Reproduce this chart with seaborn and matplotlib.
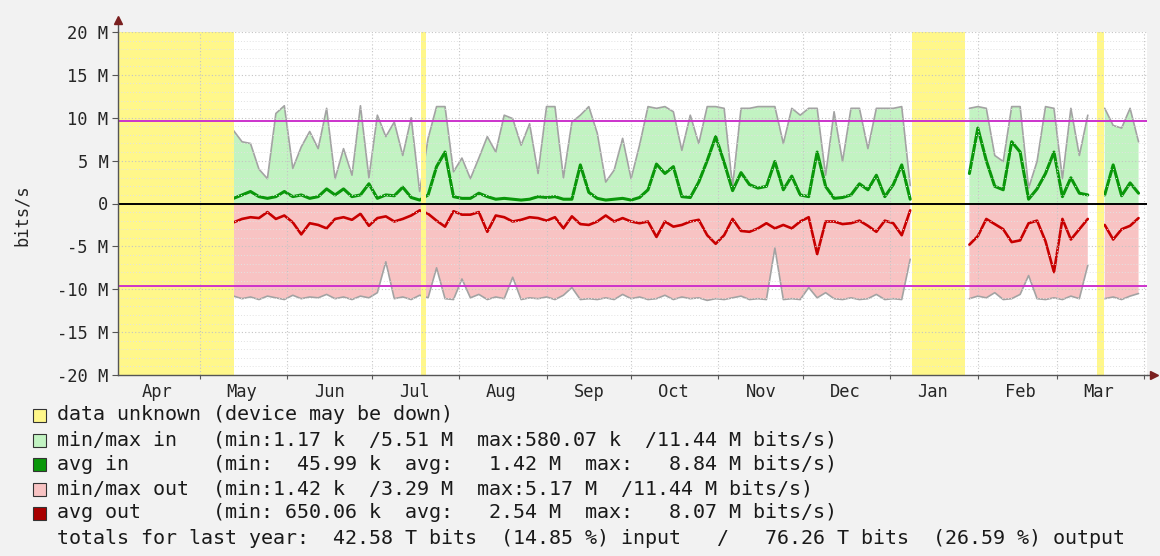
"""
Yearly traffic graph (RRD style): in/out bits per second, min/max band + daily average
"""
import numpy as np
import pandas as pd
import matplotlib
matplotlib.use("Agg")
import matplotlib.pyplot as plt
import matplotlib.dates as mdates
import matplotlib.ticker as mticker
from matplotlib.patches import Rectangle
import seaborn as sns

nan = np.nan

# ============ data (M bits/s, one sample every 3 days) ============
dates = pd.date_range("2012-05-13", periods=108, freq="3D")

max_in = [8.5, 7.2, 7.0, 4.0, 2.9, 10.5, 11.4, 4.1, 6.6, 8.4,
          6.4, 11.1, 2.9, 6.4, 3.3, 11.4, 3.0, 10.3, 7.8, 9.5,
          5.6, 10.0, 1.4, 7.6, 11.3, 11.3, 3.7, 5.3, 2.9, 5.3,
          7.8, 6.0, 10.3, 9.9, 6.8, 9.3, 3.5, 11.3, 11.3, 3.0,
          9.5, 10.3, 11.3, 8.2, 2.5, 3.9, 7.6, 2.9, 6.8, 11.3,
          11.1, 11.3, 10.7, 6.2, 10.3, 7.0, 11.3, 11.3, 11.1, 2.0,
          11.1, 11.1, 11.3, 11.3, 11.3, 7.0, 11.1, 10.3, 11.1, 11.1,
          3.3, 10.7, 4.9, 11.1, 11.1, 6.4, 11.1, 11.1, 11.1, 11.3,
          2.1, nan, nan, nan, nan, nan, nan, 11.1, 11.3, 11.1,
          5.6, 4.9, 11.3, 11.3, 1.8, 4.9, 11.3, 11.1, 2.9, 11.1,
          5.6, 10.3, nan, 11.1, 9.1, 8.8, 11.1, 7.2]

avg_in = [0.6, 1.0, 1.4, 0.8, 0.6, 0.8, 1.4, 0.8, 1.0, 0.6,
          0.8, 1.7, 1.0, 1.7, 0.8, 1.0, 2.3, 0.6, 1.0, 0.9,
          1.9, 0.7, 0.4, 1.0, 4.3, 6.0, 0.8, 0.6, 0.6, 1.2,
          0.8, 0.5, 0.6, 0.5, 0.4, 0.5, 0.8, 0.7, 0.8, 0.5,
          0.5, 4.5, 1.3, 0.6, 0.4, 0.5, 0.6, 0.4, 0.7, 1.6,
          4.6, 3.5, 4.3, 0.8, 0.7, 2.5, 5.0, 7.8, 4.8, 1.5,
          3.6, 2.2, 1.8, 2.0, 4.9, 1.6, 3.2, 1.0, 0.8, 6.0,
          2.0, 0.6, 0.7, 1.0, 2.3, 1.6, 3.3, 0.8, 2.2, 4.5,
          0.5, nan, nan, nan, nan, nan, nan, 3.5, 8.8, 5.0,
          2.0, 1.6, 7.2, 6.0, 0.5, 1.7, 3.5, 6.0, 0.8, 3.0,
          1.2, 1.0, nan, 1.0, 4.5, 0.9, 2.4, 1.2]

max_out = [10.8, 11.1, 10.9, 11.2, 10.8, 11.0, 11.2, 10.7, 11.1, 10.9,
           11.0, 10.6, 11.1, 10.9, 11.2, 10.8, 11.0, 10.4, 6.8, 11.1,
           10.9, 11.2, 10.7, 11.0, 7.5, 11.1, 11.2, 8.8, 11.0, 10.6,
           11.2, 10.9, 11.1, 8.6, 11.2, 11.0, 11.1, 10.9, 11.2, 10.7,
           9.8, 11.2, 11.1, 11.2, 11.0, 11.2, 10.6, 11.1, 10.9, 11.2,
           11.1, 10.7, 11.2, 10.9, 11.1, 11.0, 11.3, 11.1, 11.2, 11.0,
           10.8, 11.2, 11.1, 11.2, 5.2, 11.2, 11.1, 11.2, 9.8, 11.0,
           10.4, 11.1, 11.2, 11.0, 11.2, 11.1, 10.6, 11.2, 11.1, 11.2,
           6.5, nan, nan, nan, nan, nan, nan, 11.1, 10.8, 11.0,
           10.4, 11.2, 11.1, 10.6, 8.4, 11.1, 11.2, 11.0, 11.2, 10.8,
           11.1, 7.2, nan, 11.1, 10.9, 11.2, 10.8, 10.5]

avg_out = [2.2, 1.8, 1.6, 1.7, 1.0, 1.8, 1.4, 2.2, 3.6, 2.3,
           2.5, 2.9, 1.8, 1.6, 1.9, 1.2, 2.6, 1.7, 1.5, 2.1,
           1.8, 1.4, 0.8, 1.2, 2.0, 2.7, 0.9, 1.3, 1.3, 1.0,
           3.3, 1.4, 1.6, 2.1, 1.9, 1.6, 1.7, 2.0, 1.6, 2.9,
           1.5, 2.4, 2.5, 2.1, 1.4, 2.1, 1.7, 2.1, 2.3, 2.1,
           3.9, 2.1, 2.7, 2.5, 2.1, 1.9, 3.7, 4.7, 3.7, 1.8,
           3.2, 3.3, 2.9, 2.3, 2.9, 2.5, 2.9, 2.1, 1.6, 5.9,
           2.1, 2.1, 2.4, 2.3, 2.0, 2.6, 3.3, 2.0, 2.3, 3.7,
           0.8, nan, nan, nan, nan, nan, nan, 4.8, 3.8, 1.8,
           2.4, 3.0, 4.5, 4.3, 2.3, 2.0, 4.4, 8.0, 1.8, 4.2,
           3.0, 1.8, nan, 2.5, 4.2, 3.0, 2.6, 1.7]

# device down periods
unknown_start = ["2012-04-02", "2012-07-18 12:00", "2013-01-08 18:00", "2013-03-15 08:00"]
unknown_end = ["2012-05-13", "2012-07-20 06:00", "2013-01-27 12:00", "2013-03-17 20:00"]

threshold = 9.6

legend_rows = [
    "data unknown (device may be down)",
    "min/max in   (min:1.17 k  /5.51 M  max:580.07 k  /11.44 M bits/s)",
    "avg in       (min:  45.99 k  avg:   1.42 M  max:   8.84 M bits/s)",
    "min/max out  (min:1.42 k  /3.29 M  max:5.17 M  /11.44 M bits/s)",
    "avg out      (min: 650.06 k  avg:   2.54 M  max:   8.07 M bits/s)",
]
totals_row = "totals for last year:  42.58 T bits  (14.85 %) input   /   76.26 T bits  (26.59 %) output"

# ============ colours ============
YELLOW = "#fff78a"
LIGHT_GREEN = "#c2f3c2"
GREEN = "#0a970a"
PINK = "#f8c3c3"
RED = "#c80000"
GRAY = "#a3a3a3"
MAGENTA = "#cc33cc"
BG = "#f2f2f2"
legend_colors = [YELLOW, LIGHT_GREEN, GREEN, PINK, "#a80000"]

sns.set_theme(style="white")
plt.rcParams["font.family"] = ["DejaVu Sans Mono"]

df = pd.DataFrame({"date": dates, "max_in": max_in, "avg_in": avg_in,
                   "max_out": max_out, "avg_out": avg_out})
df["max_out_neg"] = -df["max_out"]
df["avg_out_neg"] = -df["avg_out"]
df["seg"] = df["max_in"].isna().cumsum()
valid = df.dropna()

W, H = 1160, 556
fig = plt.figure(figsize=(W / 100, H / 100), dpi=100, facecolor=BG)
ax = fig.add_axes([118 / W, 1 - 375 / H, 1029 / W, 343 / H])
ax.set_facecolor("white")

# min/max bands
ax.fill_between(df["date"], 0, df["max_in"], color=LIGHT_GREEN, lw=0, zorder=1)
ax.fill_between(df["date"], 0, df["max_out_neg"], color=PINK, lw=0, zorder=1)

# lines
for col, color, lw in [("max_in", GRAY, 1.2), ("max_out_neg", GRAY, 1.2),
                       ("avg_out_neg", RED, 1.9), ("avg_in", GREEN, 2.2)]:
    sns.lineplot(data=valid, x="date", y=col, units="seg", estimator=None,
                 color=color, lw=lw, ax=ax, zorder=3)

for a, b in zip(unknown_start, unknown_end):
    ax.axvspan(pd.Timestamp(a), pd.Timestamp(b), color=YELLOW, lw=0, zorder=3.5)

ax.axhline(0, color="black", lw=1.4, zorder=4.5)
ax.axhline(threshold, color=MAGENTA, lw=1.4, zorder=4.5)
ax.axhline(-threshold, color=MAGENTA, lw=1.4, zorder=4.5)

ax.set_xlim(pd.Timestamp("2012-04-02"), pd.Timestamp("2013-04-02"))
ax.set_ylim(-20, 20)
ax.set_xlabel("")
ax.set_ylabel("")

# axes / grid
ax.yaxis.set_major_locator(mticker.MultipleLocator(5))
ax.yaxis.set_minor_locator(mticker.MultipleLocator(1))
ax.yaxis.set_major_formatter(mticker.FuncFormatter(lambda v, p: "0" if v == 0 else f"{v:g} M"))
ax.xaxis.set_major_locator(mdates.MonthLocator())
ax.xaxis.set_major_formatter(mticker.NullFormatter())
ax.xaxis.set_minor_locator(mdates.MonthLocator(bymonthday=16))
ax.xaxis.set_minor_formatter(mdates.DateFormatter("%b"))

ax.grid(which="major", axis="both", color="#c4c4c4", ls=(0, (1, 2)), lw=0.8)
ax.grid(which="minor", axis="y", color="#e2e2e2", ls=(0, (1, 2)), lw=0.7)
ax.xaxis.set_zorder(4)
ax.yaxis.set_zorder(4)

ax.tick_params(axis="y", which="major", length=4, width=0.8, color="#555555",
               labelsize=12.3, pad=3, left=True)
ax.tick_params(axis="y", which="minor", length=0)
ax.tick_params(axis="x", which="major", length=3, width=0.8, color="#555555", bottom=True)
ax.tick_params(axis="x", which="minor", length=0, labelsize=12.3, pad=6)

for side in ["top", "right"]:
    ax.spines[side].set_visible(False)
for side in ["left", "bottom"]:
    ax.spines[side].set_color("#555555")
    ax.spines[side].set_linewidth(1.0)
    ax.spines[side].set_zorder(5)

# axis arrows
ax.plot([0, 0], [1, 1.03], color="#555555", lw=1.0, transform=ax.transAxes, clip_on=False)
ax.plot([0], [1.035], marker="^", ms=6, color="#7a1f1f", transform=ax.transAxes, clip_on=False)
ax.plot([1, 1.005], [0, 0], color="#555555", lw=1.0, transform=ax.transAxes, clip_on=False)
ax.plot([1.007], [0], marker=">", ms=6, color="#7a1f1f", transform=ax.transAxes, clip_on=False)

fig.text(22 / W, 1 - 215 / H, "bits/s", rotation=90, ha="center", va="center", fontsize=12.3)

# legend
row_y = [415, 440, 464, 489, 513]
for y, txt, c in zip(row_y, legend_rows, legend_colors):
    fig.add_artist(Rectangle((33 / W, 1 - (y + 7) / H), 13 / W, 13 / H, transform=fig.transFigure,
                             facecolor=c, edgecolor="#333333", lw=0.8))
    fig.text(57 / W, 1 - y / H, txt, ha="left", va="center", fontsize=14.4, color="#1a1a1a")
fig.text(57 / W, 1 - 538 / H, totals_row, ha="left", va="center", fontsize=14.4, color="#1a1a1a")

fig.savefig("out.png", dpi=100, facecolor=fig.get_facecolor())
